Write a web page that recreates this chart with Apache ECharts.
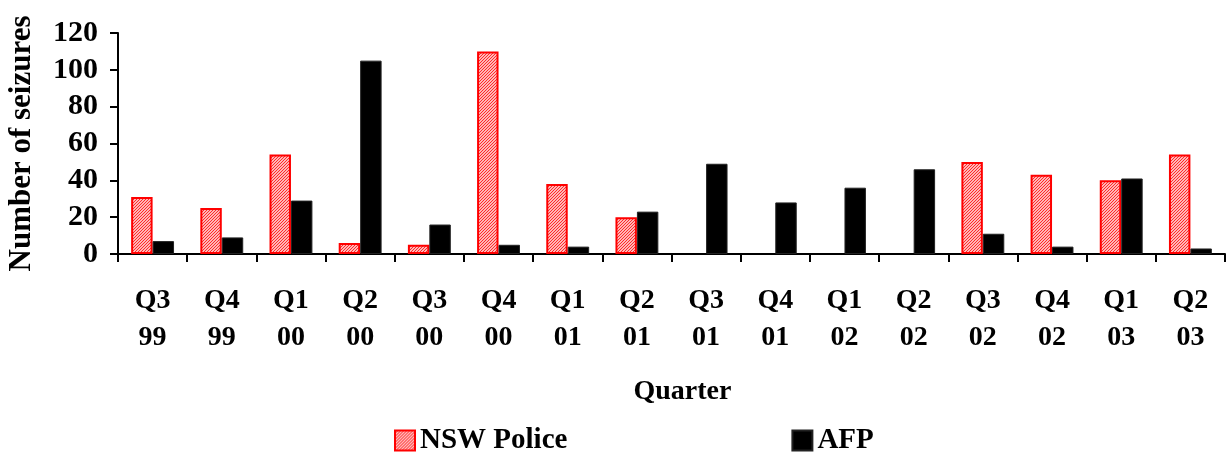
<!DOCTYPE html>
<html>
<head>
<meta charset="utf-8">
<script src="https://cdn.jsdelivr.net/npm/echarts@6/dist/echarts.min.js"></script>
<style>
  html, body { margin: 0; padding: 0; background: #fff; }
  #chart { width: 1228px; height: 454px; }
</style>
</head>
<body>
<div id="chart"></div>
<script>
// Quarterly seizure counts by agency
const quarters = ['Q3\n99', 'Q4\n99', 'Q1\n00', 'Q2\n00', 'Q3\n00', 'Q4\n00', 'Q1\n01', 'Q2\n01',
                  'Q3\n01', 'Q4\n01', 'Q1\n02', 'Q2\n02', 'Q3\n02', 'Q4\n02', 'Q1\n03', 'Q2\n03'];
const nswPolice = [31, 25, 54, 6, 5, 110, 38, 20, 0, 0, 0, 0, 50, 43, 40, 54];
const afp = [7, 9, 29, 105, 16, 5, 4, 23, 49, 28, 36, 46, 11, 4, 41, 3];
const yTicks = { min: 0, max: 120, interval: 20 };

const FONT = 'Liberation Serif';

// Fine red diagonal hatch used as the NSW Police fill
function makeHatch() {
  const s = 3;
  const c = document.createElement('canvas');
  c.width = s; c.height = s;
  const g = c.getContext('2d');
  g.fillStyle = '#fff4f4';
  g.fillRect(0, 0, s, s);
  g.strokeStyle = '#ff2020';
  g.lineWidth = 1.1;
  g.beginPath();
  g.moveTo(0, s); g.lineTo(s, 0);
  g.moveTo(-1, 1); g.lineTo(1, -1);
  g.moveTo(s - 1, s + 1); g.lineTo(s + 1, s - 1);
  g.stroke();
  return c;
}
const hatch = { image: makeHatch(), repeat: 'repeat' };

// Zero counts draw nothing, not even an outline
const nswItems = nswPolice.map(v => v === 0 ? { value: v, itemStyle: { borderWidth: 0 } } : v);

const chart = echarts.init(document.getElementById('chart'), null, { renderer: 'canvas' });
chart.setOption({
  animation: false,
  backgroundColor: '#ffffff',
  textStyle: { fontFamily: FONT, fontWeight: 'bold', color: '#000' },
  grid: { left: 118, right: 3, top: 33, bottom: 200, containLabel: false, outerBoundsMode: 'none' },
  legend: {
    left: 389,
    top: 421,
    icon: 'rect',
    itemWidth: 20,
    itemHeight: 20,
    itemGap: 224,
    textStyle: { fontFamily: FONT, fontWeight: 'bold', fontSize: 29, color: '#000' },
    data: ['NSW Police', 'AFP']
  },
  xAxis: {
    type: 'category',
    data: quarters,
    name: 'Quarter',
    nameLocation: 'middle',
    nameGap: 124,
    nameTextStyle: { fontFamily: FONT, fontWeight: 'bold', fontSize: 28, color: '#000', padding: [0, 0, 0, 22] },
    axisLine: { lineStyle: { color: '#000', width: 2 } },
    axisTick: { show: true, alignWithLabel: false, length: 8, lineStyle: { color: '#000', width: 2 } },
    axisLabel: {
      interval: 0, margin: 28, fontFamily: FONT, fontWeight: 'bold',
      fontSize: 28, lineHeight: 37, color: '#000'
    },
    splitLine: { show: false }
  },
  yAxis: {
    type: 'value',
    min: yTicks.min,
    max: yTicks.max,
    interval: yTicks.interval,
    name: 'Number of seizures',
    nameLocation: 'middle',
    nameGap: 81,
    nameRotate: 90,
    nameTextStyle: { fontFamily: FONT, fontWeight: 'bold', fontSize: 31, color: '#000' },
    axisLine: { show: true, lineStyle: { color: '#000', width: 2 } },
    axisTick: { show: true, inside: false, length: 8, lineStyle: { color: '#000', width: 2 } },
    axisLabel: { margin: 20, fontFamily: FONT, fontWeight: 'bold', fontSize: 30, color: '#000' },
    splitLine: { show: false }
  },
  series: [
    {
      name: 'NSW Police',
      type: 'bar',
      data: nswItems,
      barGap: '0%',
      barCategoryGap: '38%',
      itemStyle: { color: hatch, borderColor: '#ff0000', borderWidth: 2 }
    },
    {
      name: 'AFP',
      type: 'bar',
      data: afp,
      itemStyle: { color: '#000000', borderColor: '#222', borderWidth: 1 }
    }
  ]
});
</script>
</body>
</html>
